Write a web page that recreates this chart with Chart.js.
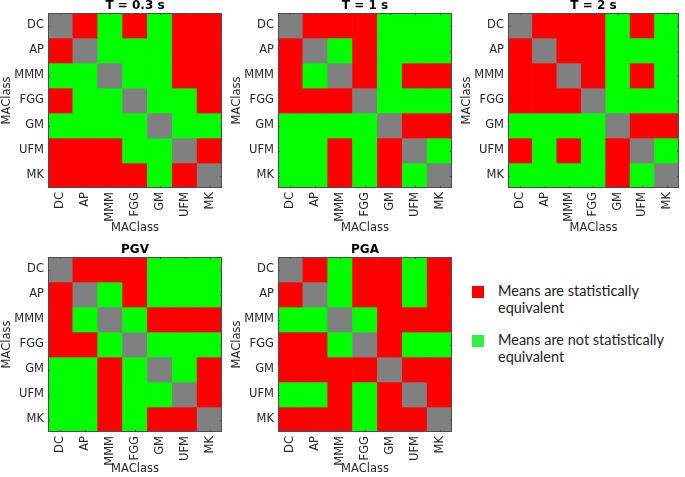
<!DOCTYPE html>
<html>
<head>
<meta charset="utf-8">
<script src="https://cdn.jsdelivr.net/npm/chart.js@4"></script>
<style>
  body { margin: 0; background: #fff; width: 685px; height: 477px; overflow: hidden; position: relative; }
  canvas { position: absolute; }
  .legend { position: absolute; left: 472px; font-family: Lato, "Open Sans", sans-serif; font-size: 14.5px; color: #222; line-height: 17px; }
  .legend .box { position: absolute; left: 0; top: 4px; width: 12px; height: 12px; }
  .legend .txt { position: absolute; left: 26px; top: 0; white-space: nowrap; }
</style>
</head>
<body>
<canvas id="c1" width="230" height="235" style="left:0;top:0"></canvas>
<canvas id="c2" width="230" height="235" style="left:230px;top:0"></canvas>
<canvas id="c3" width="225" height="235" style="left:460px;top:0"></canvas>
<canvas id="c4" width="230" height="232" style="left:0;top:244px"></canvas>
<canvas id="c5" width="230" height="232" style="left:230px;top:244px"></canvas>

<div class="legend" style="top:282px"><div class="box" style="background:#ff0000"></div><div class="txt">Means are statistically<br>equivalent</div></div>
<div class="legend" style="top:331px"><div class="box" style="background:#33ee44"></div><div class="txt">Means are not statistically<br>equivalent</div></div>

<script>
// 1 = statistically equivalent (red), 0 = not equivalent (green), -1 = diagonal
var classes = ["DC", "AP", "MMM", "FGG", "GM", "UFM", "MK"];

var t03 = [
  [-1, 1, 0, 1, 0, 1, 1],
  [1, -1, 0, 0, 0, 1, 1],
  [0, 0, -1, 0, 0, 1, 1],
  [1, 0, 0, -1, 0, 0, 1],
  [0, 0, 0, 0, -1, 0, 0],
  [1, 1, 1, 0, 0, -1, 1],
  [1, 1, 1, 1, 0, 1, -1]
];
var t1 = [
  [-1, 1, 1, 1, 0, 0, 0],
  [1, -1, 0, 1, 0, 0, 0],
  [1, 0, -1, 1, 0, 1, 1],
  [1, 1, 1, -1, 0, 0, 0],
  [0, 0, 0, 0, -1, 1, 1],
  [0, 0, 1, 0, 1, -1, 0],
  [0, 0, 1, 0, 1, 0, -1]
];
var t2 = [
  [-1, 1, 1, 1, 0, 1, 0],
  [1, -1, 1, 1, 0, 0, 0],
  [1, 1, -1, 1, 0, 1, 0],
  [1, 1, 1, -1, 0, 0, 0],
  [0, 0, 0, 0, -1, 1, 1],
  [1, 0, 1, 0, 1, -1, 0],
  [0, 0, 0, 0, 1, 0, -1]
];
var pgv = [
  [-1, 1, 1, 1, 0, 0, 0],
  [1, -1, 0, 1, 0, 0, 0],
  [1, 0, -1, 0, 1, 1, 1],
  [1, 1, 0, -1, 0, 0, 0],
  [0, 0, 1, 0, -1, 0, 1],
  [0, 0, 1, 0, 0, -1, 1],
  [0, 0, 1, 0, 1, 1, -1]
];
var pga = [
  [-1, 1, 0, 1, 1, 0, 1],
  [1, -1, 0, 1, 1, 0, 1],
  [0, 0, -1, 0, 1, 1, 1],
  [1, 1, 0, -1, 1, 0, 0],
  [1, 1, 1, 1, -1, 1, 1],
  [0, 0, 1, 0, 1, -1, 1],
  [1, 1, 1, 0, 1, 1, -1]
];

var cellColors = { "1": "#ff0000", "0": "#00ff00", "-1": "#808080" };
var tickFont = { family: "DejaVu Sans", size: 11.5 };

// frame round the plot area plus small inward tick marks like the original
var framePlugin = {
  id: "frame",
  afterDraw: function(chart) {
    var a = chart.chartArea, ctx = chart.ctx;
    ctx.save();
    ctx.strokeStyle = "#4d4d4d";
    ctx.lineWidth = 1;
    ctx.beginPath();
    chart.scales.x.ticks.forEach(function(t, i) {
      var px = Math.round(chart.scales.x.getPixelForTick(i)) + 0.5;
      ctx.moveTo(px, a.top); ctx.lineTo(px, a.top + 2);
      ctx.moveTo(px, a.bottom); ctx.lineTo(px, a.bottom - 2);
    });
    chart.scales.y.ticks.forEach(function(t) {
      var py = Math.round(chart.scales.y.getPixelForValue(t.value)) + 0.5;
      ctx.moveTo(a.left, py); ctx.lineTo(a.left + 2, py);
      ctx.moveTo(a.right, py); ctx.lineTo(a.right - 2, py);
    });
    ctx.stroke();
    ctx.strokeRect(Math.round(a.left) + 0.5, Math.round(a.top) + 0.5, Math.round(a.right - a.left) - 1, Math.round(a.bottom - a.top) - 1);
    ctx.restore();
  }
};

function drawMatrix(id, title, matrix, padRight, xAxisHeight) {
  var datasets = matrix.map(function(row, i) {
    return {
      data: classes.map(function() { return [i, i + 1]; }),
      backgroundColor: row.map(function(v) { return cellColors[String(v)]; }),
      borderWidth: 0
    };
  });

  new Chart(document.getElementById(id), {
    type: "bar",
    data: { labels: classes, datasets: datasets },
    plugins: [framePlugin],
    options: {
      responsive: false,
      animation: false,
      devicePixelRatio: 1,
      layout: { padding: { top: 0, right: padRight, bottom: 0, left: 0 } },
      datasets: { bar: { barPercentage: 1, categoryPercentage: 1, grouped: false } },
      plugins: {
        legend: { display: false },
        tooltip: { enabled: false },
        title: {
          display: true, text: title, fullSize: false, color: "#000",
          font: { family: "DejaVu Sans", size: 12, weight: "bold", lineHeight: 1 },
          padding: { top: 0, bottom: 1 }
        }
      },
      scales: {
        x: {
          type: "category",
          grid: { display: false, drawTicks: false },
          border: { display: false },
          ticks: { font: tickFont, color: "#262626", minRotation: 90, maxRotation: 90, autoSkip: false, padding: 4 },
          title: { display: true, text: "MAClass", color: "#262626", font: { family: "DejaVu Sans", size: 11.5 }, padding: 0 },
          afterFit: function(s) { s.height = xAxisHeight; }
        },
        y: {
          type: "linear", min: 0, max: 7, reverse: true,
          afterBuildTicks: function(axis) {
            axis.ticks = classes.map(function(c, i) { return { value: i + 0.5 }; });
          },
          grid: { display: false, drawTicks: false },
          border: { display: false },
          ticks: {
            font: tickFont, color: "#262626", autoSkip: false, padding: 4,
            callback: function(v) { return classes[Math.floor(v)]; }
          },
          title: { display: true, text: "MAClass", color: "#262626", font: { family: "DejaVu Sans", size: 11.5 }, padding: 0 },
          afterFit: function(s) { s.width = 48; }
        }
      }
    }
  });
}

drawMatrix("c1", "T = 0.3 s", t03, 8, 47);
drawMatrix("c2", "T = 1 s", t1, 8, 47);
drawMatrix("c3", "T = 2 s", t2, 3, 47);
drawMatrix("c4", "PGV", pgv, 8, 44);
drawMatrix("c5", "PGA", pga, 8, 44);
</script>
</body>
</html>
